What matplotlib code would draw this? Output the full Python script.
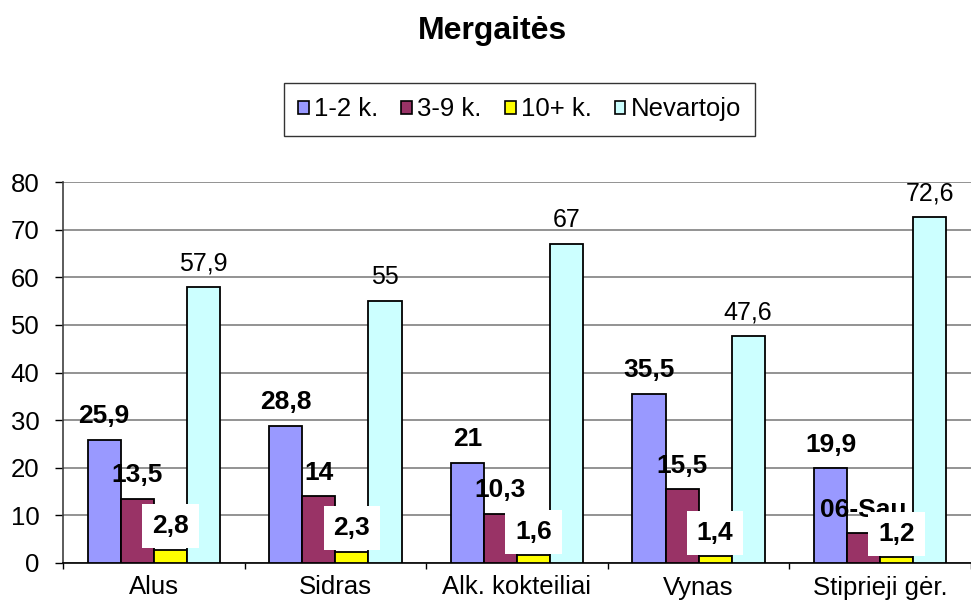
import numpy as np
import matplotlib.pyplot as plt
from matplotlib.patches import Patch

plt.rcParams['font.family'] = ['Liberation Sans', 'DejaVu Sans']

# dati
categorie = ['Alus', 'Sidras', 'Alk. kokteiliai', 'Vynas', 'Stiprieji gėr.']
serie = ['1-2 k.', '3-9 k.', '10+ k.', 'Nevartojo']
v_1_2 = [25.9, 28.8, 21, 35.5, 19.9]
v_3_9 = [13.5, 14, 10.3, 15.5, 6.2]
v_10 = [2.8, 2.3, 1.6, 1.4, 1.2]
v_nev = [57.9, 55, 67, 47.6, 72.6]
# etichette come nel foglio originale (6,2 mostrato come data)
lab_3_9 = ['13,5', '14', '10,3', '15,5', '06-Sau']

colori = ['#9999FF', '#993366', '#FFFF00', '#CCFFFF']


def fmt(v):
    return f'{v:g}'.replace('.', ',')


fig = plt.figure(figsize=(9.71, 6.01), dpi=100)
ax = fig.add_axes([63 / 971, 38 / 601, 908 / 971, 381 / 601])

x = np.arange(len(categorie))
w = 0.182
valori = [v_1_2, v_3_9, v_10, v_nev]
for i, (vals, col) in enumerate(zip(valori, colori)):
    ax.bar(x + (i - 1.5) * w, vals, w, color=col, edgecolor='black',
           linewidth=1.3, zorder=3)

# etichette dei valori
for j in range(len(categorie)):
    ax.annotate(fmt(v_1_2[j]), (x[j] - 1.5 * w, v_1_2[j]), xytext=(0, 12),
                textcoords='offset points', ha='center', va='baseline',
                fontsize=19, fontweight='bold', zorder=5)
    ax.annotate(lab_3_9[j], (x[j] - 0.5 * w, v_3_9[j]), xytext=(0, 12),
                textcoords='offset points', ha='center', va='baseline',
                fontsize=19, fontweight='bold', zorder=5)
    ax.annotate(fmt(v_10[j]), (x[j] + 0.5 * w, v_10[j]), xytext=(0, 12),
                textcoords='offset points', ha='center', va='baseline',
                fontsize=19, fontweight='bold', zorder=6,
                bbox=dict(boxstyle='square,pad=0.38', fc='white', ec='none'))
    ax.annotate(fmt(v_nev[j]), (x[j] + 1.5 * w, v_nev[j]), xytext=(0, 12),
                textcoords='offset points', ha='center', va='baseline',
                fontsize=18, zorder=5)

ax.set_xlim(-0.5, len(categorie) - 0.5)
ax.set_ylim(0, 80)
ax.set_yticks(range(0, 81, 10))
ax.set_xticks(x)
ax.set_xticklabels(categorie, fontsize=18.5)
ax.set_xticks(np.arange(-0.5, len(categorie), 1), minor=True)
ax.tick_params(axis='x', which='major', length=0, pad=9)
ax.tick_params(axis='x', which='minor', length=4, width=1, direction='out')
ax.tick_params(axis='y', labelsize=18.5, length=6, width=1, pad=11)

ax.yaxis.grid(True, color='#808080', linewidth=1.2, zorder=0)
ax.set_axisbelow(True)
for s in ['top', 'right']:
    ax.spines[s].set_visible(False)
ax.spines['left'].set_color('#404040')
ax.spines['left'].set_linewidth(1.2)
ax.spines['bottom'].set_linewidth(1.2)

fig.text(0.507, 0.948, 'Mergaitės', ha='center', va='center',
         fontsize=23, fontweight='bold')

maniglie = [Patch(facecolor=c, edgecolor='black', linewidth=1.2) for c in colori]
leg = fig.legend(maniglie, serie, loc='center', bbox_to_anchor=(0.535, 0.818),
                 ncol=4, fontsize=18.5, frameon=True, fancybox=False,
                 handlelength=0.42, handleheight=0.42, handletextpad=0.2,
                 columnspacing=0.9, borderpad=0.55)
leg.get_frame().set_edgecolor('black')
leg.get_frame().set_linewidth(1.0)

plt.savefig('out.png', dpi=100)
